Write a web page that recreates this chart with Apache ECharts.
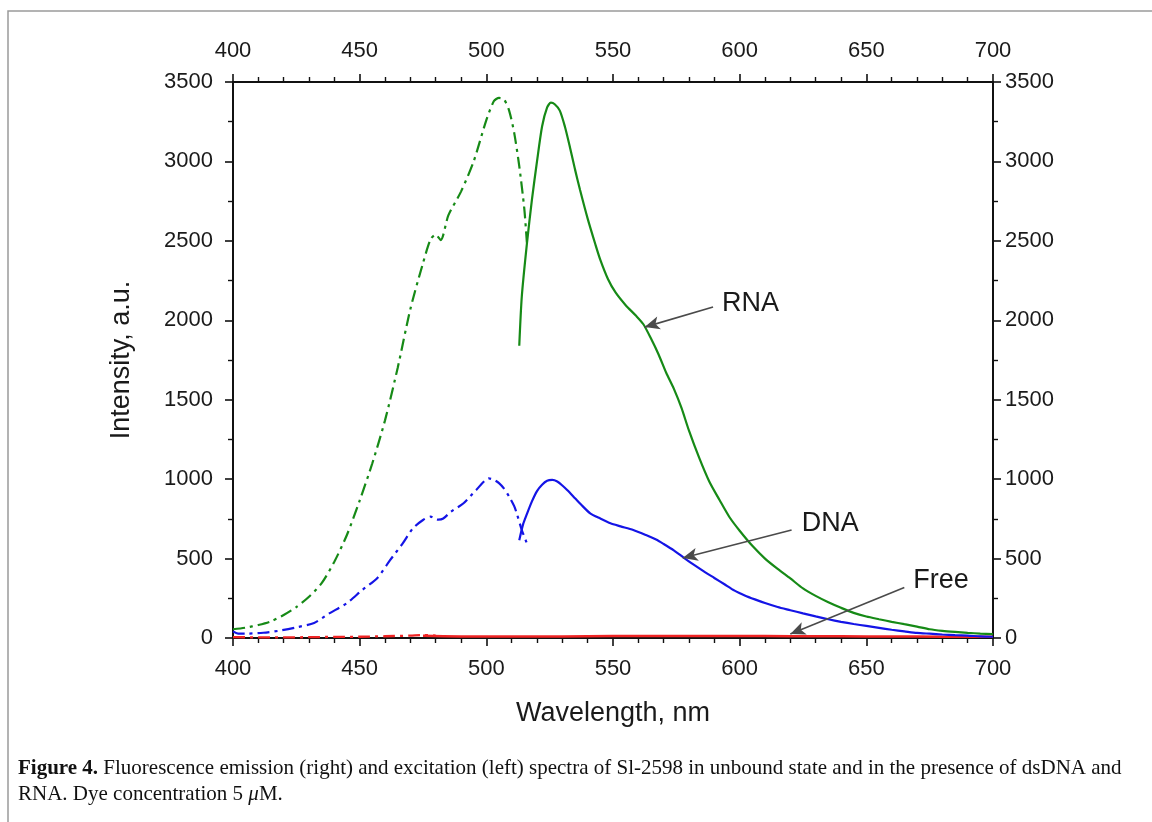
<!DOCTYPE html>
<html>
<head>
<meta charset="utf-8">
<script src="https://cdn.jsdelivr.net/npm/echarts@6/dist/echarts.min.js"></script>
<style>
html,body{margin:0;padding:0;background:#fff;}
#chart{width:1152px;height:822px;}
</style>
</head>
<body>
<div id="chart"></div>
<script>
// ---- Data ----
const xTicks = [400, 450, 500, 550, 600, 650, 700];
const yTicks = [0, 500, 1000, 1500, 2000, 2500, 3000, 3500];

// RNA excitation (dash-dot, green)
const rnaExWl  = [400,405,410,415,420,425,430,435,440,445,450,455,460,465,470,475,478,480,482,485,490,495,500,503,505,507,509,511,513,515,516];
const rnaExInt = [55,65,82,105,145,195,260,345,480,650,865,1100,1370,1700,2070,2360,2510,2540,2505,2660,2810,3000,3260,3380,3400,3390,3320,3180,2970,2700,2490];

// RNA emission (solid, green)
const rnaEmWl  = [513,514,516,518,520,522,524,525.5,527,529,531,533,535,537,540,543,545,548,551,555,559,562,565,568,571,574,577,580,584,588,592,596,600,605,610,615,620,625,630,635,640,645,650,655,660,665,670,675,680,685,690,695,700];
const rnaEmInt = [1840,2150,2480,2760,3000,3220,3340,3370,3360,3320,3220,3090,2950,2820,2640,2480,2380,2260,2175,2095,2030,1975,1885,1785,1670,1570,1450,1305,1135,985,870,760,675,580,500,435,375,312,265,225,190,158,135,118,102,87,72,55,45,38,32,28,25];

// DNA excitation (dash-dot, blue)
const dnaExWl  = [400,402,406,412,418,425,432,438,445,451,457,462,467,471,475,478,481,483,486,491,496,501,503,505,507,509,511,512,514,516];
const dnaExInt = [42,28,28,33,45,67,95,155,220,302,378,490,596,690,743,764,745,752,795,848,932,1005,995,975,940,890,830,785,680,596];

// DNA emission (solid, blue)
const dnaEmWl  = [513,514.5,516,518,520,522,524,526,528,530,532,535,538,541,545,549,553,558,563,567,570,574,578,582,586,590,594,598,602,606,610,615,620,625,630,635,640,645,650,655,660,665,670,675,680,685,690,695,700];
const dnaEmInt = [615,715,780,860,925,965,990,995,985,960,930,880,830,785,752,722,703,680,648,620,592,552,505,460,418,378,338,298,268,243,220,195,175,155,136,118,102,88,76,64,52,42,32,27,22,18,15,10,8];

// Free dye excitation (dash-dot, red)
const freeExWl  = [400,410,420,430,440,450,460,470,475,480];
const freeExInt = [6,4,4,5,7,8,11,15,18,15];

// Free dye emission (solid, red)
const freeEmWl  = [475,490,510,530,550,570,590,610,630,650,670,690,700];
const freeEmInt = [14,10,9,10,12,13,13,12,11,10,9,8,8];

// Annotations (text, label anchor, arrow start, arrow tip) in data units
const annoText = ['RNA', 'DNA', 'Free'];
const annoAt   = [[593, 2105], [624.5, 722], [668.5, 360]];
const annoFrom = [[589.5, 2083], [620.5, 680], [665, 318]];
const annoTo   = [[562.5, 1957], [577.5, 503], [620, 25]];

// ---- Build ----
const zip = (a, b) => a.map((v, i) => [v, b[i]]);
const GREEN = '#168a16', BLUE = '#1414e6', RED = '#f02424';
const DASHDOT = [12, 5, 3, 5];

const axisFont = {fontFamily: 'Liberation Sans, Arial, sans-serif', fontSize: 22, color: '#1a1a1a'};

function xAxisCfg(pos) {
  return {
    type: 'value', position: pos, min: 400, max: 700, interval: 50,
    axisLine: {show: true, onZero: false, lineStyle: {color: '#111', width: 2}},
    axisTick: {show: true, inside: false, length: 8, lineStyle: {color: '#111', width: 1.6}},
    minorTick: {show: true, splitNumber: 5, length: 5, lineStyle: {color: '#111', width: 1.4}},
    splitLine: {show: false},
    axisLabel: Object.assign({margin: 20, formatter: v => xTicks.includes(v) ? String(v) : ''}, axisFont)
  };
}
function yAxisCfg(pos, margin) {
  return {
    type: 'value', position: pos, min: 0, max: 3500, interval: 500,
    axisLine: {show: true, onZero: false, lineStyle: {color: '#111', width: 2}},
    axisTick: {show: true, inside: false, length: 8, lineStyle: {color: '#111', width: 1.6}},
    minorTick: {show: true, splitNumber: 2, length: 5, lineStyle: {color: '#111', width: 1.4}},
    splitLine: {show: false},
    axisLabel: Object.assign({margin: margin, formatter: v => yTicks.includes(v) ? String(v) : ''}, axisFont)
  };
}

const xBottom = xAxisCfg('bottom');
xBottom.name = 'Wavelength, nm';
xBottom.nameLocation = 'middle';
xBottom.nameGap = 62;
xBottom.nameTextStyle = {fontFamily: 'Liberation Sans, Arial, sans-serif', fontSize: 27, color: '#1a1a1a'};
const xTop = xAxisCfg('top');

const yLeft = yAxisCfg('left', 20);
yLeft.name = 'Intensity, a.u.';
yLeft.nameLocation = 'middle';
yLeft.nameGap = 98;
yLeft.nameTextStyle = {fontFamily: 'Liberation Sans, Arial, sans-serif', fontSize: 27, color: '#1a1a1a'};
const yRight = yAxisCfg('right', 12);

function lineSeries(name, wl, val, color, dash, width) {
  return {
    name: name, type: 'line', xAxisIndex: 0, yAxisIndex: 0,
    data: zip(wl, val), showSymbol: false, symbol: 'none', smooth: 0.25,
    lineStyle: {color: color, width: width || 2, type: dash ? DASHDOT : 'solid'},
    z: 3
  };
}

const series = [
  lineSeries('Free ex', freeExWl, freeExInt, RED, true, 2.3),
  lineSeries('Free em', freeEmWl, freeEmInt, RED, false, 2.5),
  lineSeries('DNA ex', dnaExWl, dnaExInt, BLUE, true, 2.2),
  lineSeries('DNA em', dnaEmWl, dnaEmInt, BLUE, false, 2.2),
  lineSeries('RNA ex', rnaExWl, rnaExInt, GREEN, true, 2.2),
  lineSeries('RNA em', rnaEmWl, rnaEmInt, GREEN, false, 2.2),
  {
    name: 'annotations', type: 'line', xAxisIndex: 0, yAxisIndex: 0,
    data: [], symbol: 'none', z: 5,
    markLine: {
      silent: true, animation: false,
      symbol: ['none', 'arrow'], symbolSize: [10, 15],
      lineStyle: {color: '#4a4a4a', width: 1.6, type: 'solid'},
      label: {show: false},
      emphasis: {disabled: true},
      data: annoFrom.map((f, i) => [{coord: f}, {coord: annoTo[i]}])
    },
    markPoint: {
      silent: true, animation: false,
      symbol: 'circle', symbolSize: 0,
      label: {show: true, position: 'right', distance: 0, formatter: p => p.name,
        fontFamily: 'Liberation Sans, Arial, sans-serif', fontSize: 27, color: '#1a1a1a'},
      data: annoText.map((t, i) => ({name: t, coord: annoAt[i]}))
    }
  }
];

const chart = echarts.init(document.getElementById('chart'), null, {renderer: 'canvas'});
chart.setOption({
  animation: false,
  backgroundColor: '#ffffff',
  grid: {left: 233, right: 159, top: 82, bottom: 184, containLabel: false},
  xAxis: [xBottom, xTop],
  yAxis: [yLeft, yRight],
  series: series,
  graphic: [
    {type: 'rect', shape: {x: 8, y: 11, width: 1300, height: 1000},
     style: {fill: 'none', stroke: '#9a9a9a', lineWidth: 1.5}, silent: true},
    {type: 'text', left: 18, top: 758, silent: true,
     style: {text: '{b|Figure 4.} Fluorescence emission (right) and excitation (left) spectra of Sl-2598 in unbound state and in the presence of dsDNA and',
       fontFamily: 'Liberation Serif, Times New Roman, serif', fontSize: 21, fill: '#111',
       rich: {b: {fontWeight: 'bold', fontFamily: 'Liberation Serif, Times New Roman, serif', fontSize: 21, fill: '#111'}}}},
    {type: 'text', left: 18, top: 784, silent: true,
     style: {text: 'RNA. Dye concentration 5 {i|μ}M.',
       fontFamily: 'Liberation Serif, Times New Roman, serif', fontSize: 21, fill: '#111',
       rich: {i: {fontStyle: 'italic', fontFamily: 'Liberation Serif, Times New Roman, serif', fontSize: 21, fill: '#111'}}}}
  ]
});
</script>
</body>
</html>
